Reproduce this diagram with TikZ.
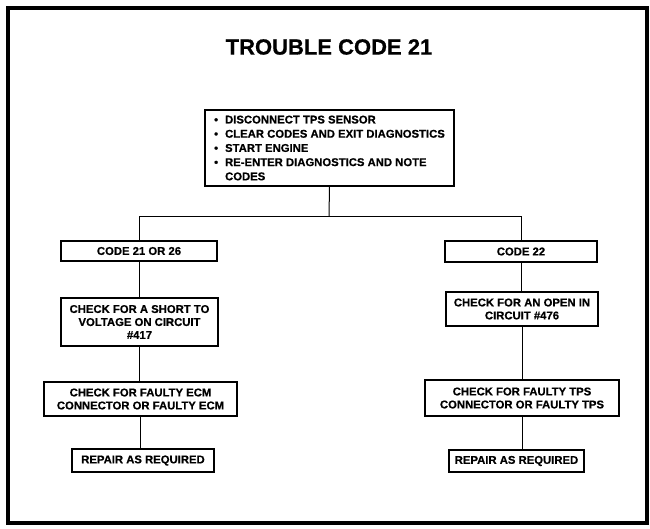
\documentclass[tikz,border=0pt]{standalone}
\usepackage{fontspec}
\setmainfont{Liberation Sans}
\newfontfamily\heavyfont{Liberation Sans Bold}[FakeBold=0.6]
\tikzset{
  box/.style={draw, line width=1.2pt, align=center, inner sep=0pt,
    font=\heavyfont\fontsize{11.3}{13}\selectfont},
  link/.style={line width=1pt},
}
\begin{document}
\begin{tikzpicture}[x=1pt,y=-1pt]
\useasboundingbox (0,0) rectangle (650,528);
\draw[line width=4pt] (8,8) rectangle (647,523);
\node[font=\heavyfont\fontsize{22}{26}\selectfont] (title) at (329,47) {TROUBLE CODE 21};
\node[box, minimum width=249, minimum height=76, align=left,
  font=\heavyfont\fontsize{11.3}{14.2}\selectfont] (top) at (329.5,148)
  {\textbullet\hspace{7pt}DISCONNECT TPS SENSOR\\
   \textbullet\hspace{7pt}CLEAR CODES AND EXIT DIAGNOSTICS\\
   \textbullet\hspace{7pt}START ENGINE\\
   \textbullet\hspace{7pt}RE-ENTER DIAGNOSTICS AND NOTE\\
   \phantom{\textbullet}\hspace{7pt}CODES};
\node[box, minimum width=156, minimum height=20] (c21) at (139,251) {CODE 21 OR 26};
\node[box, minimum width=157, minimum height=48] (short) at (139.5,322) {CHECK FOR A SHORT TO\\VOLTAGE ON CIRCUIT\\\#417};
\node[box, minimum width=193, minimum height=34] (ecm) at (140.5,399) {CHECK FOR FAULTY ECM\\CONNECTOR OR FAULTY ECM};
\node[box, minimum width=142, minimum height=23] (rep1) at (143,460.5) {REPAIR AS REQUIRED};
\node[box, minimum width=152, minimum height=21] (c22) at (521,251.5) {CODE 22};
\node[box, minimum width=152, minimum height=34] (open) at (522,309) {CHECK FOR AN OPEN IN\\CIRCUIT \#476};
\node[box, minimum width=194, minimum height=36] (tps) at (522,398) {CHECK FOR FAULTY TPS\\CONNECTOR OR FAULTY TPS};
\node[box, minimum width=135, minimum height=22] (rep2) at (516.5,461) {REPAIR AS REQUIRED};
\coordinate (j) at (329,216);
\draw[link] (top.south) -- (j);
\draw[link] (c21.north) -- (c21.north |- j) -- (c22.north |- j) -- (c22.north);
\draw[link] (c21.south) -- (c21.south |- short.north);
\draw[link] (short.south) -- (short.south |- ecm.north);
\draw[link] (ecm.south) -- (ecm.south |- rep1.north);
\draw[link] (c22.south) -- (c22.south |- open.north);
\draw[link] (open.south) -- (open.south |- tps.north);
\draw[link] (tps.south) -- (tps.south |- rep2.north);
\end{tikzpicture}
\end{document}
